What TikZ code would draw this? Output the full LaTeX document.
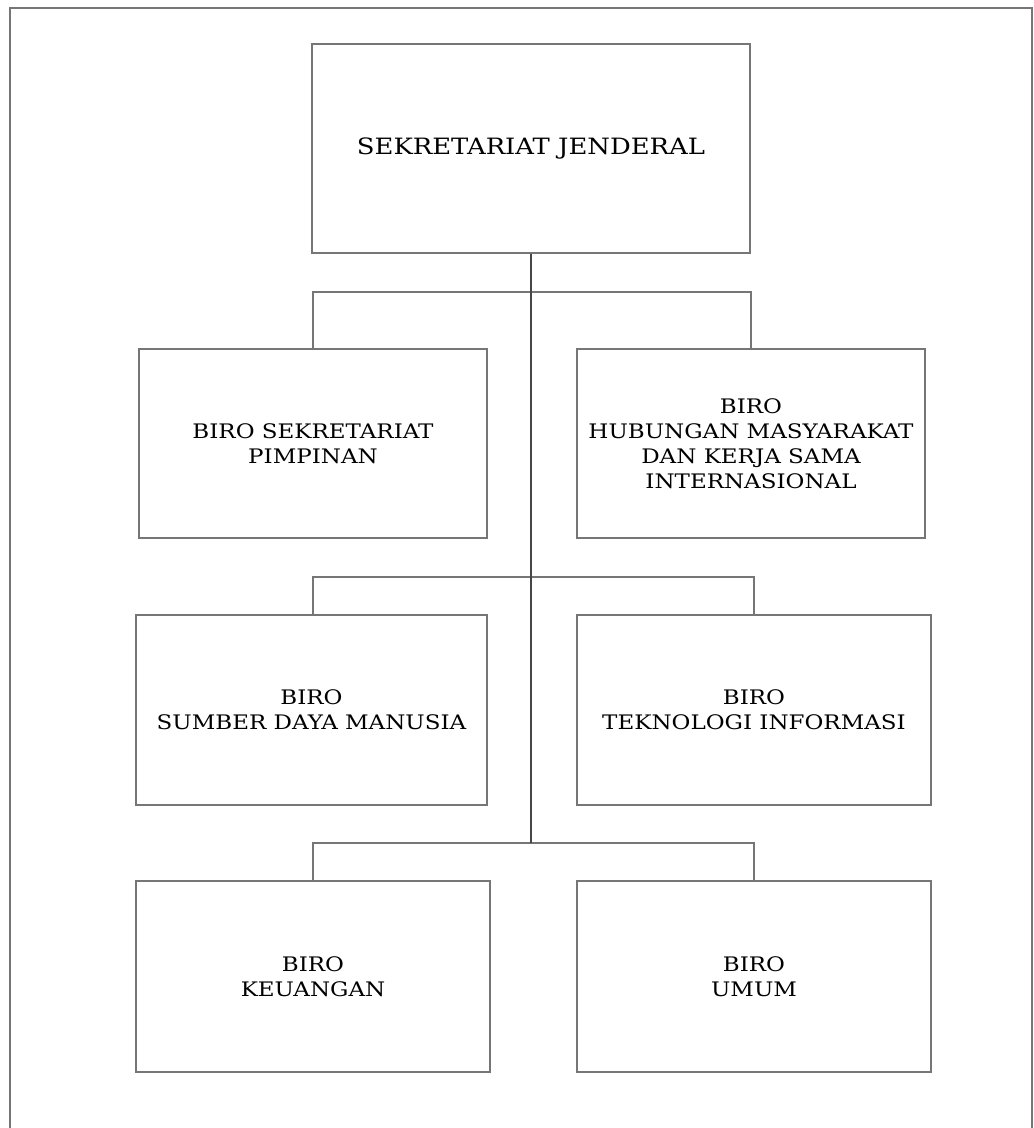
\documentclass[tikz,border=0pt]{standalone}
\usepackage{fontspec}
\setmainfont{DejaVu Serif}[FakeStretch=1.15]
\usetikzlibrary{positioning}
\definecolor{BoxGray}{RGB}{118,118,118}
\definecolor{SpineGray}{RGB}{70,70,70}

\begin{document}
\begin{tikzpicture}[
      x=1pt, y=-1pt,
      every node/.style={font=\fontsize{20}{25}\selectfont, inner sep=0pt},
      unitbox/.style={draw=BoxGray, line width=1.1pt, align=center},
      link/.style={draw=BoxGray, line width=1.1pt},
      spine/.style={draw=SpineGray, line width=1.6pt},
    ]
      \clip (0,0) rectangle (1034,1128);
      \useasboundingbox (0,0) rectangle (1034,1128);
      % Outer frame, open at the bottom of the page
      \draw[draw=BoxGray, line width=1.3pt] (10,1150) -- (10,8) -- (1032,8) -- (1032,1150);
      % Head
      \node[unitbox, minimum width=438pt, minimum height=209pt,
            font=\fontsize{22.5}{27}\selectfont] (sj) at (531,148.5)
        {SEKRETARIAT JENDERAL};
      % Row 1
      \node[unitbox, minimum width=348pt, minimum height=189pt] (bsp) at (313,443.5)
        {BIRO SEKRETARIAT\\PIMPINAN};
      \node[unitbox, minimum width=348pt, minimum height=189pt] (humas) at (751,443.5)
        {BIRO\\HUBUNGAN MASYARAKAT\\DAN KERJA SAMA\\INTERNASIONAL};
      % Row 2
      \node[unitbox, minimum width=351pt, minimum height=190pt] (sdm) at (311.5,710)
        {BIRO\\SUMBER DAYA MANUSIA};
      \node[unitbox, minimum width=354pt, minimum height=190pt] (ti) at (754,710)
        {BIRO\\TEKNOLOGI INFORMASI};
      % Row 3
      \node[unitbox, minimum width=354pt, minimum height=191pt] (keu) at (313,976.5)
        {BIRO\\KEUANGAN};
      \node[unitbox, minimum width=354pt, minimum height=191pt] (umum) at (754,976.5)
        {BIRO\\UMUM};
      % Junctions on the spine
      \coordinate (j1) at (531,292);
      \coordinate (j2) at (531,577);
      \coordinate (j3) at (531,843);
      % Branches
      \draw[link] (bsp.north) |- (j1) -| (humas.north);
      \draw[link] ([xshift=1.5pt]sdm.north) |- (j2) -| (ti.north);
      \draw[link] (keu.north) |- (j3) -| (umum.north);
      % Spine
      \draw[spine] (sj.south) -- (j3);
    \end{tikzpicture}
\end{document}
